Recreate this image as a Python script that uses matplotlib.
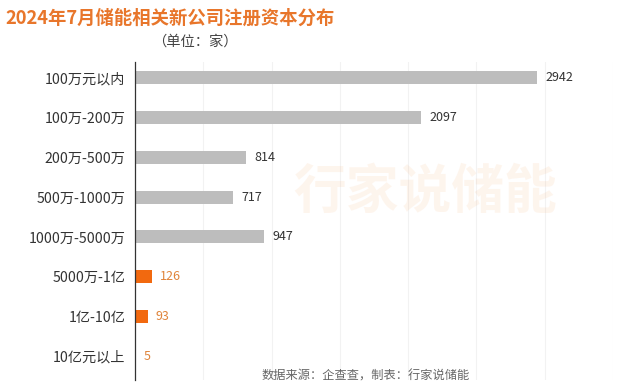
import matplotlib.pyplot as plt

plt.rcParams['font.family'] = ['Noto Sans CJK SC', 'DejaVu Sans']

categories = ["100万元以内", "100万-200万", "200万-500万", "500万-1000万",
              "1000万-5000万", "5000万-1亿", "1亿-10亿", "10亿元以上"]
values = [2942, 2097, 814, 717, 947, 126, 93, 5]
colors = ["#BDBDBD"] * 5 + ["#F2690F"] * 3
label_colors = ["#333333"] * 5 + ["#E0843A"] * 3

fig = plt.figure(figsize=(6.4, 3.89), dpi=100)
ax = fig.add_axes([135 / 640, 9 / 389, 478 / 640, 318 / 389])

y = list(range(len(categories)))
ax.barh(y, values, height=0.33, color=colors, zorder=2)
for i, v in enumerate(values):
    ax.text(v + 60, i, str(v), va="center", ha="left", fontsize=9,
            color=label_colors[i])

ax.set_ylim(len(categories) - 0.4, -0.4)
ax.set_xlim(0, 3500)
ax.set_yticks(y)
ax.set_yticklabels(categories, fontsize=10.2, color="#333333")
ax.set_xticks(range(500, 3501, 500))
ax.tick_params(axis="x", length=0, labelbottom=False)
ax.tick_params(axis="y", length=0, pad=7)
ax.grid(axis="x", color="#F2F2F2", linewidth=0.8, zorder=0)
for s in ["top", "right", "bottom"]:
    ax.spines[s].set_visible(False)
ax.spines["left"].set_color("#333333")
ax.spines["left"].set_linewidth(0.9)

# watermark
fig.text(0.665, 0.505, "行家说储能", fontsize=38, color="#F7B27A", alpha=0.13,
         ha="center", va="center", fontweight="bold")

fig.text(5 / 640, 1 - 18 / 389, "2024年7月储能相关新公司注册资本分布", fontsize=13.2,
         fontweight="bold", color="#E8762B", ha="left", va="center")
fig.text(195 / 640, 1 - 42 / 389, "（单位：家）", fontsize=10.3, color="#444444",
         ha="center", va="center")
fig.text(262 / 640, 1 - 376 / 389, "数据来源：企查查，制表：行家说储能", fontsize=8.8,
         color="#666666", ha="left", va="center")

fig.savefig("out.png", dpi=100)
